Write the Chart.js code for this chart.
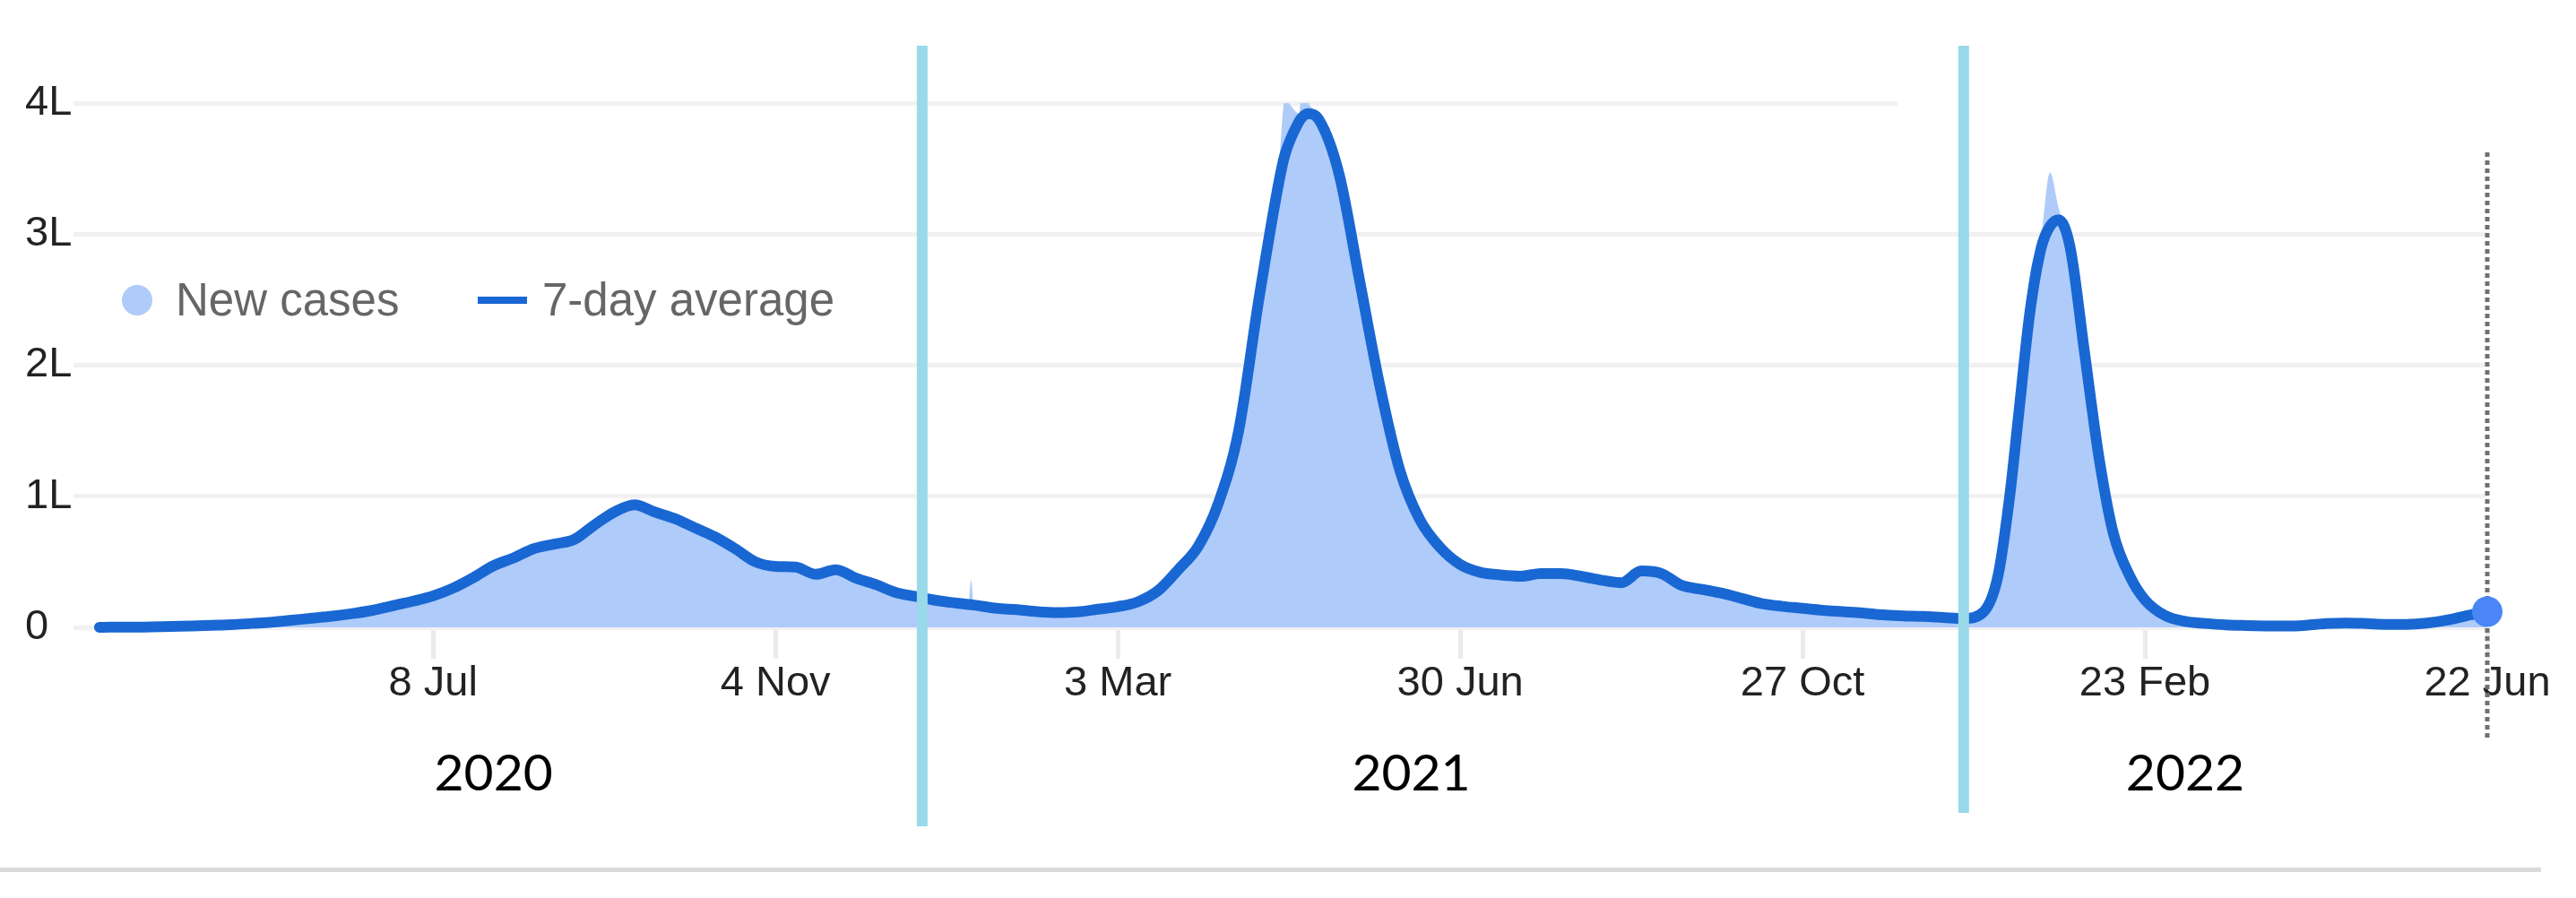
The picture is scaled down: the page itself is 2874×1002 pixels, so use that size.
<!DOCTYPE html>
<html><head><meta charset="utf-8">
<script src="https://cdn.jsdelivr.net/npm/chart.js@4.4.1/dist/chart.umd.min.js"></script>
<style>html,body{margin:0;padding:0;background:#fff;overflow:hidden}#wrap{width:2874px;height:1002px}canvas{display:block}</style>
</head><body><div id="wrap"><canvas id="c" width="2874" height="1002"></canvas></div>
<script>
const dates = ['2020-03-14','2020-03-18','2020-03-25','2020-04-01','2020-04-08','2020-04-15','2020-04-22','2020-04-29','2020-05-06','2020-05-13','2020-05-20','2020-05-27','2020-06-03','2020-06-10','2020-06-17','2020-06-24','2020-07-01','2020-07-08','2020-07-15','2020-07-22','2020-07-29','2020-08-05','2020-08-12','2020-08-19','2020-08-26','2020-09-02','2020-09-09','2020-09-16','2020-09-23','2020-09-30','2020-10-07','2020-10-14','2020-10-21','2020-10-28','2020-11-04','2020-11-11','2020-11-18','2020-11-25','2020-12-02','2020-12-09','2020-12-16','2020-12-23','2020-12-30','2021-01-06','2021-01-10','2021-01-11','2021-01-12','2021-01-20','2021-01-27','2021-02-03','2021-02-10','2021-02-17','2021-02-24','2021-03-03','2021-03-10','2021-03-17','2021-03-24','2021-03-31','2021-04-07','2021-04-14','2021-04-21','2021-04-28','2021-04-30','2021-05-05','2021-05-06','2021-05-08','2021-05-12','2021-05-19','2021-05-26','2021-06-02','2021-06-09','2021-06-16','2021-06-23','2021-06-30','2021-07-07','2021-07-14','2021-07-21','2021-07-28','2021-08-04','2021-08-11','2021-08-18','2021-08-25','2021-09-01','2021-09-08','2021-09-15','2021-09-22','2021-09-29','2021-10-06','2021-10-13','2021-10-20','2021-10-27','2021-11-03','2021-11-10','2021-11-17','2021-11-24','2021-12-01','2021-12-08','2021-12-15','2021-12-22','2021-12-29','2022-01-03','2022-01-07','2022-01-10','2022-01-14','2022-01-18','2022-01-21','2022-01-24','2022-01-28','2022-02-02','2022-02-07','2022-02-12','2022-02-18','2022-02-23','2022-03-02','2022-03-09','2022-03-16','2022-03-23','2022-03-30','2022-04-06','2022-04-13','2022-04-20','2022-04-27','2022-05-04','2022-05-11','2022-05-18','2022-05-25','2022-06-01','2022-06-08','2022-06-15','2022-06-22'];
const avgValues = [0,100,100,300,700,1000,1500,2000,3000,4000,5500,7000,8500,10500,13000,16500,20000,24000,30000,38000,47000,53000,60000,63500,67000,78000,88000,93500,88000,83000,76000,69000,60000,50000,46500,46000,40500,44000,37500,32500,26500,23500,20500,18500,17500,17300,17000,14500,13500,12000,11300,11800,13800,15800,19500,28000,44000,62000,95000,150000,250000,340000,360000,386000,389000,392000,387000,345000,265000,185000,120000,82000,61000,48000,42000,40000,39000,41000,41000,39000,36000,34000,43000,41000,32000,29000,26000,22000,18000,16000,14500,13000,12000,11000,9500,8800,8300,7500,6800,12000,40000,100000,160000,240000,290000,306000,311000,290000,210000,130000,72000,38000,21000,9000,4500,3000,1900,1400,1100,1000,1600,2900,3300,2900,2300,2300,3200,5500,9000,12000];
const newCases = [0,100,100,400,800,1100,1500,2000,3200,4000,5800,7200,9000,11000,13500,17000,20500,24500,31000,40000,49000,55000,61000,65000,69000,80000,90000,97000,86000,82000,75000,67000,58000,49000,47000,46000,41000,44500,37000,32000,26000,23000,20000,18000,17000,36000,16500,14500,13000,12000,11300,12000,14500,16500,21000,31000,48000,68000,105000,165000,265000,355000,402000,392000,414000,401000,390000,350000,270000,188000,120000,80000,59000,47000,42000,40000,39500,42000,41000,39000,36000,37000,44000,40000,32000,29000,26000,22000,18000,16000,14500,13000,12000,11000,9500,8800,8300,7500,6800,14000,45000,115000,175000,268000,300000,347000,320000,290000,205000,125000,68000,36000,20000,8500,4500,3000,1900,1400,1100,1000,1700,3000,3300,2900,2300,2300,3300,5800,9500,12500];
const tickDates = ['2020-07-08','2020-11-04','2021-03-03','2021-06-30','2021-10-27','2022-02-23','2022-06-22'];
const tickLabels = ['8 Jul','4 Nov','3 Mar','30 Jun','27 Oct','23 Feb','22 Jun'];
const yTickValues = [0,100000,200000,300000,400000];
const yearLabels = ['2020','2021','2022'];
const yearLabelDates = ['2020-07-29','2021-06-13','2022-03-09'];
const yearDividerDates = ['2020-12-25','2021-12-22'];
const legendLabels = ['New cases','7-day average'];
const axisStart = '2020-03-05';
const axisEnd = '2022-06-22';

function dayNum(s){const p=s.split('-').map(Number);return (Date.UTC(p[0],p[1]-1,p[2])-Date.UTC(2020,0,1))/86400000;}

const FONT = "'Liberation Sans', Arial, sans-serif";
const LINE_COLOR = '#1967d2';
const FILL_COLOR = '#aecbfa';

const overlay = {
  id:'overlay',
  beforeDatasetsDraw(chart){
    const {ctx, chartArea:a, scales:{x,y}} = chart;
    ctx.save();
    ctx.fillStyle='#fff';
    const y4 = y.getPixelForValue(400000);
    ctx.fillRect(2117, y4-5, a.right-2117+4, 10);
    const xe = x.getPixelForValue(dayNum(dates[dates.length-1]));
    ctx.strokeStyle='#707070'; ctx.lineWidth=5; ctx.setLineDash([5,4]);
    ctx.beginPath(); ctx.moveTo(xe,170); ctx.lineTo(xe,825); ctx.stroke();
    ctx.restore();
  },
  afterDatasetsDraw(chart){
    const {ctx, scales:{x}} = chart;
    ctx.save();
    ctx.fillStyle='#99d9ea';
    const bottoms=[922,907];
    yearDividerDates.forEach((d,i)=>{
      const px=x.getPixelForValue(dayNum(d));
      ctx.fillRect(px-6,51,12,bottoms[i]-51);
    });
    ctx.fillStyle='#000';
    ctx.font="57px Lato, 'Liberation Sans', sans-serif";
    ctx.textAlign='center'; ctx.textBaseline='alphabetic';
    yearLabels.forEach((t,i)=>{ ctx.fillText(t, x.getPixelForValue(dayNum(yearLabelDates[i])), 882); });
    ctx.beginPath(); ctx.fillStyle=FILL_COLOR; ctx.arc(153,335,17,0,Math.PI*2); ctx.fill();
    ctx.fillStyle=LINE_COLOR; ctx.fillRect(533,331,55,8);
    ctx.fillStyle='#666'; ctx.font='51px '+FONT; ctx.textAlign='left';
    ctx.fillText(legendLabels[0],196,352);
    ctx.fillText(legendLabels[1],605,352);
    ctx.fillStyle='#dadada'; ctx.fillRect(0,968,2835,5);
    ctx.restore();
  }
};

const lastIdx = dates.length-1;
new Chart(document.getElementById('c'), {
  type:'line',
  data:{
    datasets:[
      {label:legendLabels[1], order:0, data:dates.map((d,i)=>({x:dayNum(d),y:avgValues[i]})),
       borderColor:LINE_COLOR, borderWidth:12, fill:false, cubicInterpolationMode:'monotone',
       borderCapStyle:'round', borderJoinStyle:'round', clip:false,
       pointRadius:(c)=>c.dataIndex===lastIdx?17:0, pointHoverRadius:(c)=>c.dataIndex===lastIdx?17:0,
       pointBackgroundColor:'#4a86f5', pointBorderWidth:0},
      {label:legendLabels[0], order:1, data:dates.map((d,i)=>({x:dayNum(d),y:newCases[i]})),
       borderWidth:0, borderColor:'rgba(0,0,0,0)', backgroundColor:FILL_COLOR, fill:'origin',
       cubicInterpolationMode:'monotone', pointRadius:0, clip:false}
    ]
  },
  options:{
    responsive:false, devicePixelRatio:1, animation:false, events:[],
    layout:{padding:{left:28,right:99,top:115,bottom:0}},
    plugins:{legend:{display:false}, tooltip:{enabled:false}},
    scales:{
      x:{type:'linear', min:dayNum(axisStart), max:dayNum(axisEnd),
        afterBuildTicks(s){ s.ticks = tickDates.map(d=>({value:dayNum(d)})); },
        afterFit(s){ s.height = 302; },
        border:{display:false},
        grid:{drawOnChartArea:false, drawTicks:true, tickLength:35, tickWidth:5, tickColor:'#ebebeb'},
        ticks:{autoSkip:false, maxRotation:0, padding:0, color:'#222', font:{family:FONT,size:47},
          callback:(v,i)=>tickLabels[i]}
      },
      y:{min:0, max:400000,
        afterBuildTicks(s){ s.ticks = yTickValues.map(v=>({value:v})); },
        afterFit(s){ s.width = 54; },
        border:{display:false},
        grid:{color:'#f1f1f1', lineWidth:5, drawTicks:false},
        ticks:{padding:0, crossAlign:'far', color:'#222', font:{family:FONT,size:47},
          callback:(v)=>v===0?'0':(v/100000)+'L'}
      }
    }
  },
  plugins:[overlay]
});
</script></body></html>
